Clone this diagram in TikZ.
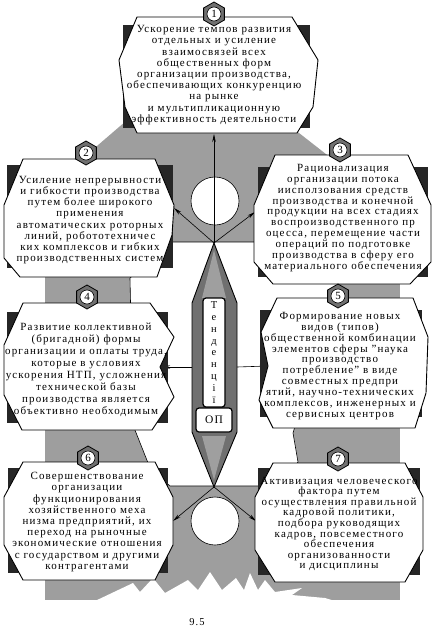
\documentclass[tikz,border=0pt]{standalone}
\usepackage{fontspec}
\setmainfont{Liberation Serif}[LetterSpace=10.5]
\usetikzlibrary{positioning,calc,arrows.meta,shapes.geometric}
\definecolor{backgray}{gray}{0.62}
\definecolor{cornerdark}{gray}{0.15}
\definecolor{rhombgray}{gray}{0.44}
\begin{document}
\begin{tikzpicture}[
            x=1pt, y=-1pt,
            backfill/.style={
                fill=backgray
            },
            corner/.style={
                fill=cornerdark
            },
            panel/.style={
                fill=white,
                draw=black,
                line width=0.9pt,
                line join=round
            },
            txt/.style={
                align=center,
                inner sep=0pt,
                font=\fontsize{11}{11.2}\selectfont
            },
            badge/.style={
                regular polygon,
                regular polygon sides=6,
                shape border rotate=30,
                minimum size=24pt,
                inner sep=0pt,
                fill=rhombgray,
                draw=black,
                line width=0.8pt
            },
            num/.style={
                circle,
                minimum size=14pt,
                inner sep=0pt,
                fill=white,
                draw=black,
                line width=0.6pt,
                font=\fontsize{11}{11}\selectfont
            },
            hole/.style={
                circle,
                minimum size=48pt,
                fill=white,
                draw=black,
                line width=0.6pt
            },
            tagbox/.style={
                rounded corners=3pt,
                fill=white,
                draw=black,
                line width=1.2pt,
                inner sep=0pt
            },
            link/.style={
                ->,
                line width=0.6pt
            },
            >={Stealth[length=8pt,width=3.5pt]},
        ]

            \useasboundingbox (0,0) rectangle (433,629);

            % background
            \fill[backfill] (133,115) -- (276,115) -- (331,158) -- (331,250) -- (90,250) -- (90,152) -- cycle;
            \fill[backfill] (45,255) rectangle (400,600);
            \draw[fill=white, line width=0.6pt] (173,242) -- (257,242) -- (275,260) -- (342,276) -- (333,298)
                -- (293,433) -- (298,462) -- (280,486) -- (170,486) -- (150,468) -- (133,425) -- (130,278) -- cycle;
            \fill[white] (95,601) -- (133,583) -- (140,592) -- (153,578) -- (165,593) -- (188,580) -- (198,590)
                -- (210,572) -- (222,590) -- (236,578) -- (244,590) -- (250,573) -- (258,590) -- (265,580)
                -- (275,592) -- (302,588) -- (292,595) -- (325,598) -- (335,601) -- cycle;

            \node[hole] (holetop) at (215,201) {};
            \node[hole] (holebot) at (215,521) {};

            % centre
            \coordinate (rtop) at (214,243);
            \coordinate (rbot) at (214,487);
            \coordinate (rleft) at (192,367);
            \coordinate (rright) at (237,367);

            \coordinate (in1) at (214,134);
            \coordinate (in2) at (174,208);
            \coordinate (in3) at (255,212);
            \coordinate (in4) at (162,367);
            \coordinate (in5) at (268,366);
            \coordinate (in6) at (173,521);
            \coordinate (in7) at (256,521);

            \draw[link] (rtop) -- (in1);
            \draw[link] (rtop) -- (in2);
            \draw[link] (rtop) -- (in3);
            \draw[link] (rleft) -- (in4);
            \draw[link] (rright) -- (in5);
            \draw[link] (rbot) -- (in6);
            \draw[link] (rbot) -- (in7);

            \draw[fill=rhombgray, line width=0.9pt] (rtop) -- (192,303) -- (192,432) -- (rbot) -- (237,432) -- (237,303) -- cycle;
            \fill[gray!75] (214,250) -- (202,298) -- (226,298) -- cycle;
            \fill[gray!75] (214,480) -- (202,436) -- (226,436) -- cycle;

            \node[tagbox, minimum width=22pt, minimum height=109pt, align=center,
                font=\fontsize{10.5}{11.8}\selectfont] (tend) at (214,352.5) {Т\\е\\н\\д\\е\\н\\ц\\і\\ї};
            \node[tagbox, minimum width=36pt, minimum height=24pt,
                font=\fontsize{11.5}{11.5}\selectfont] (op) at (214,420) {ОП};

            % box 1
            \fill[corner] (123,25) rectangle (310,128);
            \draw[panel] (137,17) -- (292,17) -- (318,60) -- (313,107) -- (297,133) -- (137,133) -- (125,107) -- (119,60) -- cycle;
            \node[txt] (t1) at (214,75) {Ускорение темпов развития\\отдельных и усиление\\взаимосвязей всех\\общественных форм\\организации производства,\\обеспечивающих конкуренцию\\на рынке\\и мультипликационную\\эффективность деятельности};
            \node[badge] (b1) at (214,14) {};
            \node[num] at (b1) {1};

            % box 2
            \fill[corner] (7,165) rectangle (173,268);
            \draw[panel] (23,159) -- (155,159) -- (174,205) -- (172,235) -- (157,277) -- (20,277) -- (4,258) -- (4,205) -- cycle;
            \node[txt] (t2) at (90,220) {Усиление непрерывности\\и гибкости производства\\путем более широкого\\применения\\автоматических роторных\\линий, робототехничес\\ких комплексов и гибких\\производственных систем};
            \node[badge] (b2) at (86,153) {};
            \node[num] at (b2) {2};

            % box 3
            \fill[corner] (258,167) rectangle (428,277);
            \draw[panel] (275,155) -- (408,155) -- (431,205) -- (431,262) -- (410,284) -- (273,284) -- (254,262) -- (254,205) -- cycle;
            \node[txt, font=\fontsize{11}{10.9}\selectfont] (t3) at (343,218) {Рационализация\\организации потока\\иисползования средств\\производства и конечной\\продукции на всех стадиях\\воспроизводственного пр\\оцесса, перемещение части\\операций по подготовке\\производства в сферу его\\материального обеспечения};
            \node[badge] (b3) at (340,150) {};
            \node[num] at (b3) {3};

            % box 4
            \fill[corner] (7,312) rectangle (168,423);
            \draw[panel] (23,303) -- (150,303) -- (174,337) -- (160,367) -- (174,397) -- (152,430) -- (22,430) -- (4,395) -- (4,345) -- cycle;
            \node[txt, font=\fontsize{11}{12}\selectfont] (t4) at (86,370) {Развитие коллективной\\(бригадной) формы\\организации и оплаты труда,\\которые в условиях\\ускорения НТП, усложнения\\технической базы\\производства является\\объективно необходимым};
            \node[badge] (b4) at (87,297) {};
            \node[num] at (b4) {4};

            % box 5
            \fill[corner] (260,310) rectangle (422,417);
            \draw[panel] (277,298) -- (413,298) -- (428,337) -- (426,393) -- (415,428) -- (273,428) -- (259,400) -- (268,366) -- (261,332) -- cycle;
            \node[txt, font=\fontsize{11}{10.9}\selectfont] (t5) at (340,366) {Формирование новых\\видов (типов)\\общественной комбинации\\элементов сферы "наука\\производство\\потребление" в виде\\совместных предпри\\ятий, научно-технических\\комплексов, инженерных и\\сервисных центров};
            \node[badge] (b5) at (338,296) {};
            \node[num] at (b5) {5};

            % box 6
            \fill[corner] (8,468) rectangle (168,573);
            \draw[panel] (23,462) -- (155,462) -- (173,497) -- (173,545) -- (155,580) -- (23,580) -- (4,545) -- (4,497) -- cycle;
            \node[txt] (t6) at (87,522) {Совершенствование\\организации\\функционирования\\хозяйственного меха\\низма предприятий, их\\переход на рыночные\\экономические отношения\\с государством и другими\\контрагентами};
            \node[badge] (b6) at (88,458) {};
            \node[num] at (b6) {6};

            % box 7
            \fill[corner] (258,468) rectangle (420,575);
            \draw[panel] (273,463) -- (405,463) -- (423,497) -- (423,550) -- (405,582) -- (275,582) -- (255,550) -- (255,497) -- cycle;
            \node[txt, font=\fontsize{11}{10.6}\selectfont] (t7) at (339,524) {Активизация человеческого\\фактора путем\\осуществления правильной\\кадровой политики,\\подбора руководящих\\кадров, повсеместного\\обеспечения\\организованности\\и дисциплины};
            \node[badge] (b7) at (338,459) {};
            \node[num] at (b7) {7};

            \node[font=\fontsize{10.5}{10.5}\selectfont] (fignum) at (197,622) {9.5};
        \end{tikzpicture}
\end{document}
